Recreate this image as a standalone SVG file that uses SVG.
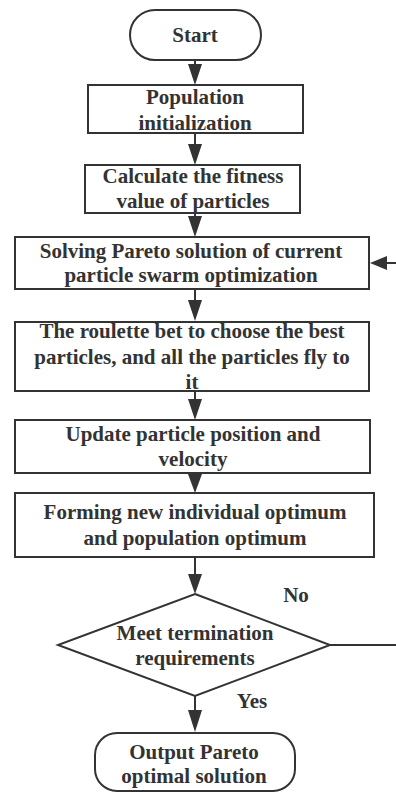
<svg xmlns="http://www.w3.org/2000/svg" width="396" height="793" viewBox="0 0 396 793">
<defs>
<style>
.box{fill:#fff;stroke:#333;stroke-width:2}
.t{font-family:"Liberation Serif","Times New Roman",serif;font-weight:bold;font-size:21px;fill:#333;text-anchor:middle;dominant-baseline:central}
.c{stroke:#333;stroke-width:2;fill:none}
.h{fill:#333}
</style>
</defs>
<rect width="396" height="793" fill="#fff"/>
<g id="connectors">
<path class="c" d="M195,60 V70"/>
<path class="h" d="M188,64 L202,64 L195,85 Z"/>
<path class="c" d="M195,133 V145"/>
<path class="h" d="M188,144 L202,144 L195,165 Z"/>
<path class="c" d="M195,213 V222"/>
<path class="h" d="M188,216 L202,216 L195,237 Z"/>
<path class="c" d="M195,289 V300"/>
<path class="h" d="M188,300 L202,300 L195,321 Z"/>
<path class="c" d="M195,391 V400"/>
<path class="h" d="M188,399 L202,399 L195,420 Z"/>
<path class="h" d="M188,474 L202,474 L195,493 Z"/>
<path class="c" d="M195,557 V576"/>
<path class="h" d="M188,574 L202,574 L195,594 Z"/>
<path class="c" d="M195,696 V712"/>
<path class="h" d="M188,710 L202,710 L195,732 Z"/>
<path class="c" d="M330,645 H396"/>
<path class="c" d="M384,263 H396"/>
<path class="h" d="M387,256 L387,270 L370,263 Z"/>
<text class="t" x="296" y="595">No</text>
<text class="t" x="252" y="701">Yes</text>
</g>
<g id="start">
<rect class="box" x="130" y="10" width="131" height="50" rx="25"/>
<text class="t" x="195" y="35">Start</text>
</g>
<g id="init">
<rect class="box" x="88" y="85" width="215" height="48"/>
<text class="t" x="195" y="97">Population</text>
<text class="t" x="195" y="123">initialization</text>
</g>
<g id="fitness">
<rect class="box" x="85" y="165" width="215" height="48"/>
<text class="t" x="193" y="176">Calculate the fitness</text>
<text class="t" x="193" y="201">value of particles</text>
</g>
<g id="pareto">
<rect class="box" x="15" y="237" width="354" height="52"/>
<text class="t" x="191" y="251">Solving Pareto solution of current</text>
<text class="t" x="191" y="275">particle swarm optimization</text>
</g>
<g id="roulette">
<rect class="box" x="15" y="322" width="354" height="69"/>
<text class="t" x="192" y="331">The roulette bet to choose the best</text>
<text class="t" x="192" y="357">particles, and all the particles fly to</text>
<text class="t" x="192" y="382">it</text>
</g>
<g id="update">
<rect class="box" x="15" y="420" width="355" height="53"/>
<text class="t" x="193" y="434">Update particle position and</text>
<text class="t" x="193" y="459">velocity</text>
</g>
<g id="forming">
<rect class="box" x="15" y="493" width="359" height="64"/>
<text class="t" x="195" y="512">Forming new individual optimum</text>
<text class="t" x="195" y="538">and population optimum</text>
</g>
<g id="decision">
<polygon class="box" points="195,594 330,645 195,696 58,645"/>
<text class="t" x="195" y="633">Meet termination</text>
<text class="t" x="195" y="658">requirements</text>
</g>
<g id="output">
<rect class="box" x="95" y="733" width="200" height="58" rx="22"/>
<text class="t" x="194" y="752">Output Pareto</text>
<text class="t" x="194" y="776">optimal solution</text>
</g>
</svg>
